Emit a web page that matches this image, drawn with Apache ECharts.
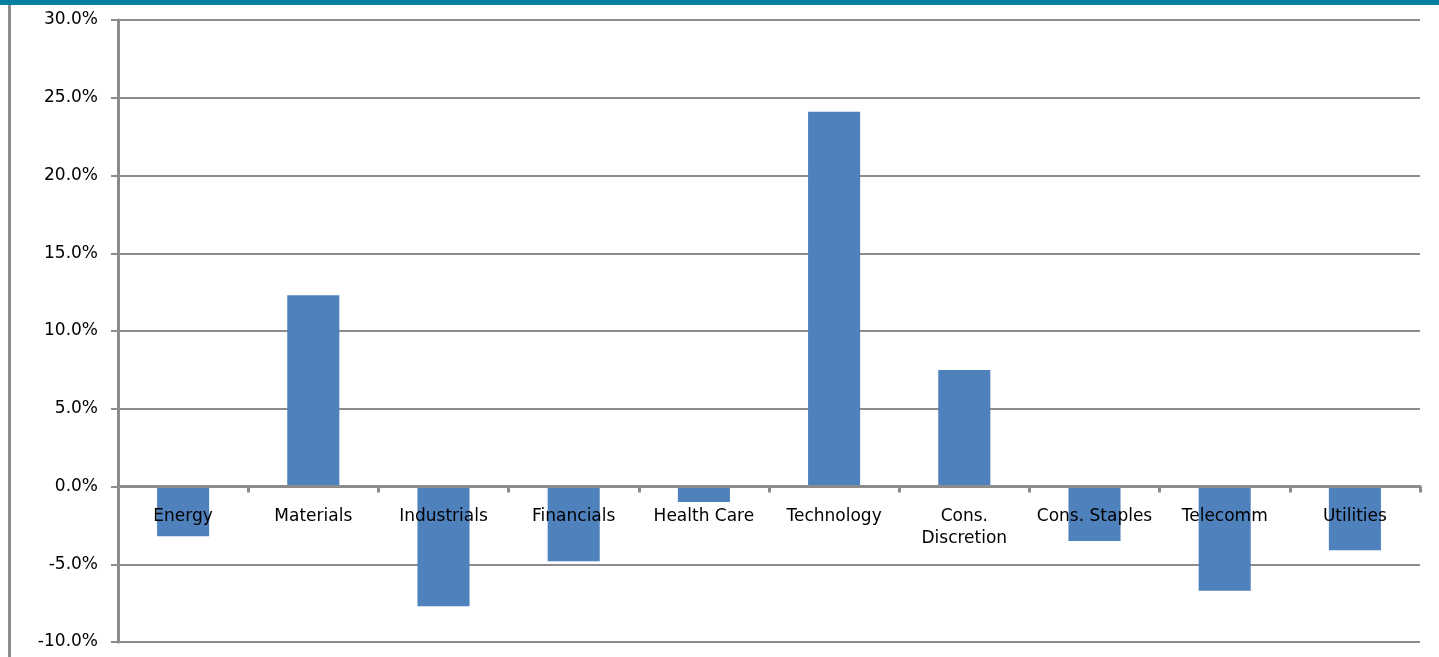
<!DOCTYPE html>
<html>
<head>
<meta charset="utf-8">
<script src="https://cdn.jsdelivr.net/npm/echarts@6/dist/echarts.min.js"></script>
<style>
html, body { margin: 0; padding: 0; background: #fff; }
#main { width: 1439px; height: 657px; }
</style>
</head>
<body>
<div id="main"></div>
<script>
// sector returns, percent
var sectors = ['Energy', 'Materials', 'Industrials', 'Financials', 'Health Care',
  'Technology', 'Cons.\nDiscretion', 'Cons. Staples', 'Telecomm', 'Utilities']
var returns = [-3.2, 12.3, -7.7, -4.8, -1.0, 24.1, 7.5, -3.5, -6.7, -4.1]

var chart = echarts.init(document.getElementById('main'))
chart.setOption({
  animation: false,
  graphic: [
    { type: 'rect', shape: { x: 0, y: 0, width: 1439, height: 5 }, style: { fill: '#007fa3' } },
    { type: 'rect', shape: { x: 8, y: 5, width: 3, height: 652 }, style: { fill: '#8c8c8c' } }
  ],
  grid: { left: 118, right: 19, top: 20, bottom: 15, containLabel: false, outerBoundsMode: 'none' },
  xAxis: {
    type: 'category',
    data: sectors,
    z: 3,
    position: 'bottom',
    // put the axis on the zero line: (0 - -10) / 40 of the 622px plot height
    offset: -155.5,
    axisLine: { onZero: false, lineStyle: { color: '#8c8c8c', width: 3 } },
    axisTick: { show: true, length: 6, lineStyle: { color: '#8c8c8c', width: 3 } },
    axisLabel: {
      color: '#000',
      fontFamily: 'DejaVu Sans',
      fontSize: 17,
      lineHeight: 22,
      margin: 19,
      interval: 0
    }
  },
  yAxis: {
    type: 'value',
    min: -10,
    max: 30,
    interval: 5,
    axisLine: { show: true, lineStyle: { color: '#8c8c8c', width: 3 } },
    axisTick: { show: true, length: 7, lineStyle: { color: '#8c8c8c', width: 2 } },
    splitLine: { lineStyle: { color: '#8c8c8c', width: 2 } },
    axisLabel: {
      color: '#000',
      fontFamily: 'DejaVu Sans',
      fontSize: 17,
      margin: 20,
      formatter: function (v) { return v.toFixed(1) + '%' }
    }
  },
  series: [
    {
      type: 'bar',
      data: returns,
      barWidth: '40%',
      itemStyle: { color: '#4f81bd' }
    }
  ]
})
</script>
</body>
</html>
